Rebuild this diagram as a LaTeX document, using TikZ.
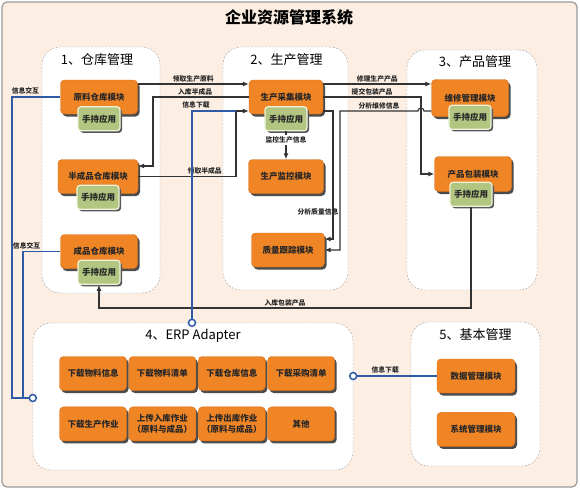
\documentclass[tikz,border=0pt]{standalone}
\usepackage{fontspec}
\setmainfont{Noto Sans CJK SC}
\usetikzlibrary{positioning,calc,shadows,arrows.meta}
\definecolor{bgpeach}{HTML}{FCEEE3}
\definecolor{modorange}{HTML}{F08526}
\definecolor{modedge}{HTML}{D86C14}
\definecolor{handgreen}{HTML}{B2C682}
\definecolor{handedge}{HTML}{EEF3DA}
\definecolor{linkblue}{HTML}{2F5BA6}
\definecolor{linegray}{HTML}{333333}
\tikzset{
	module/.style={
		rectangle,
		rounded corners=4pt,
		fill=modorange,
		draw=modedge,
		thin,
		minimum width=77pt,
		minimum height=34pt,
		inner sep=1pt,
		align=center,
		text=black!85,
		font=\bfseries\fontsize{8.5}{11}\selectfont,
		drop shadow={shadow xshift=2pt,shadow yshift=-2.5pt,fill=black!70,opacity=1}
	},
	hand/.style={
		rectangle,
		rounded corners=3pt,
		fill=handgreen,
		draw=handedge,
		line width=1.2pt,
		minimum width=42pt,
		minimum height=24pt,
		inner sep=1pt,
		text=black!85,
		font=\bfseries\fontsize{8.5}{10}\selectfont,
		drop shadow={shadow xshift=2pt,shadow yshift=-2pt,fill=black!65,opacity=1}
	},
	panel/.style={
		rectangle,
		rounded corners=18pt,
		draw=gray!75,
		dash pattern=on 2pt off 1.5pt,
		fill=white,
		thin
	},
	ptitle/.style={
		font=\fontsize{13}{15}\selectfont,
		inner sep=1pt
	},
	arrow/.style={
		draw=linegray,
		line width=1.1pt,
		->,
		>={Latex[length=6pt,width=5pt]}
	},
	bline/.style={
		draw=linkblue,
		line width=1.8pt
	},
	port/.style={
		circle,
		draw=linkblue,
		line width=1.5pt,
		fill=white,
		minimum size=7pt,
		inner sep=0pt
	},
	lbl/.style={
		font=\bfseries\fontsize{6.8}{8}\selectfont,
		text=black!85,
		inner sep=1.5pt
	},
}

\begin{document}
\begin{tikzpicture}[x=1pt,y=-1pt]
	\useasboundingbox (0,0) rectangle (580,490);
	\draw[rounded corners=5pt,fill=bgpeach,draw=gray!80,line width=1.2pt] (2,2) rectangle (577,487);
	\node[font=\bfseries\fontsize{16}{18}\selectfont] (title) at (289,17) {企业资源管理系统};
	% panels
	\node[panel,minimum width=118pt,minimum height=246pt] (P1) at (101,170) {};
	\node[panel,minimum width=125pt,minimum height=243pt] (P2) at (285.5,168.5) {};
	\node[panel,minimum width=130pt,minimum height=240pt] (P3) at (472,170) {};
	\node[panel,minimum width=320pt,minimum height=147pt] (P4) at (193,396.5) {};
	\node[panel,minimum width=129pt,minimum height=144pt] (P5) at (475.5,394) {};
	\node[ptitle,below=6pt of P1.north,xshift=-4pt] (T1) {1、仓库管理};
	\node[ptitle,below=6pt of P2.north,xshift=1pt] (T2) {2、生产管理};
	\node[ptitle,below=5pt of P3.north,xshift=3pt] (T3) {3、产品管理};
	\node[ptitle,below=5pt of P4.north] (T4) {4、ERP Adapter};
	\node[ptitle,below=6pt of P5.north] (T5) {5、基本管理};
	% 1 warehouse
	\node[module] (m1) at (99,97) {原料仓库模块};
	\node[hand,below=-8pt of m1] (h1) {手持应用};
	\node[module,minimum width=80pt] (m2) at (98,176.5) {半成品仓库模块};
	\node[hand,below=-9pt of m2] (h2) {手持应用};
	\node[module] (m3) at (99,251.5) {成品仓库模块};
	\node[hand,below=-9pt of m3] (h3) {手持应用};
	% 2 production
	\node[module,minimum width=74pt] (p1) at (286,97) {生产采集模块};
	\node[hand,below=-8pt of p1] (hp) {手持应用};
	\node[module,minimum width=75pt] (p2) at (286,176.5) {生产监控模块};
	\node[module,minimum width=73pt] (p3) at (288,250) {质量跟踪模块};
	% 3 products
	\node[module,minimum height=37pt] (q1) at (470,98) {维修管理模块};
	\node[hand,below=-12pt of q1] (hq1) {手持应用};
	\node[module,minimum height=35pt] (q2) at (473,174) {产品包装模块};
	\node[hand,below=-10pt of q2,xshift=-2pt] (hq2) {手持应用};
	% 4 ERP adapter
	\node[module,minimum width=67pt] (a1) at (93,373.5) {下载物料信息};
	\node[module,minimum width=67pt,right=2pt of a1] (a2) {下载物料清单};
	\node[module,minimum width=67pt,right=2pt of a2] (a3) {下载仓库信息};
	\node[module,minimum width=67pt,right=2pt of a3] (a4) {下载采购清单};
	\node[module,minimum width=67pt,below=16pt of a1] (a5) {下载生产作业};
	\node[module,minimum width=67pt,right=2pt of a5] (a6) {上传入库作业\\（原料与成品）};
	\node[module,minimum width=67pt,right=2pt of a6] (a7) {上传出库作业\\（原料与成品）};
	\node[module,minimum width=67pt,right=2pt of a7] (a8) {其他};
	% 5 basic
	\node[module,minimum width=78pt] (b1) at (476,376) {数据管理模块};
	\node[module,minimum width=78pt,below=19pt of b1] (b2) {系统管理模块};
	% ports
	\node[port] (e1) at ([xshift=-1pt]P4.north) {};
	\node[port] (e2) at ([yshift=-1.5pt]P4.west) {};
	\node[port] (e3) at ([yshift=20.5pt]P4.east) {};
	\coordinate (j1) at (236,111);
	\coordinate (bot) at (0,308);
	% warehouse <-> production
	\draw[arrow] ([yshift=13pt]m1.east) -- node[lbl,above]{领取生产原料} ([yshift=13pt]m1.east -| p1.west);
	\draw[arrow] (p1.west) -- node[lbl,above,pos=0.56]{入库半成品} (153,97) |- ([yshift=10.5pt]m2.east);
	\draw[arrow] (m2.east) -| node[lbl,above,pos=0.34]{领取半成品} (j1) -- ([yshift=-14pt]p1.west);
	\draw[arrow] (hp.south) -- node[lbl,pos=0.3,fill=white]{监控生产信息} (p2.north);
	% production <-> products
	\draw[arrow] ([yshift=13pt]p1.east) -- node[lbl,above]{修理生产产品} ([yshift=13pt]p1.east -| q1.west);
	\draw[arrow] (p1.east) -- node[lbl,above]{提交包装产品} (421,97) |- (q2.west);
	\draw[arrow] ([yshift=-13pt]q1.west) -- (424,111) arc[start angle=0,end angle=-180,radius=3]
		-- node[lbl,above]{分析维修信息} (340,111) |- (p3.east);
	\draw[arrow] ([yshift=-14pt]p1.east) -- (333,111) -- node[lbl,pos=0.79,xshift=-15pt]{分析质量信息} (333,239) -- ([yshift=11pt]p3.east);
	% products -> warehouse
	\draw[arrow] (hq2.south) -- (hq2.south |- bot) -- node[lbl,above]{入库包装产品} (h3.south |- bot) -- (h3.south);
	% ERP links
	\draw[bline] (e1) |- node[lbl,pos=0.5,above,xshift=4pt,text=black!85]{信息下载} (j1);
	\draw[bline] (m1.west) -| node[lbl,pos=0.36,above]{信息交互} ([xshift=-21pt]e2.center) -- (e2);
	\draw[bline] (m3.west) -| node[lbl,pos=0.45,above]{信息交互} ([xshift=-10pt]e2.center) -- (e2);
	\draw[bline] (e3) -- node[lbl,above,pos=0.35]{信息下载} (b1.west);
\end{tikzpicture}
\end{document}
